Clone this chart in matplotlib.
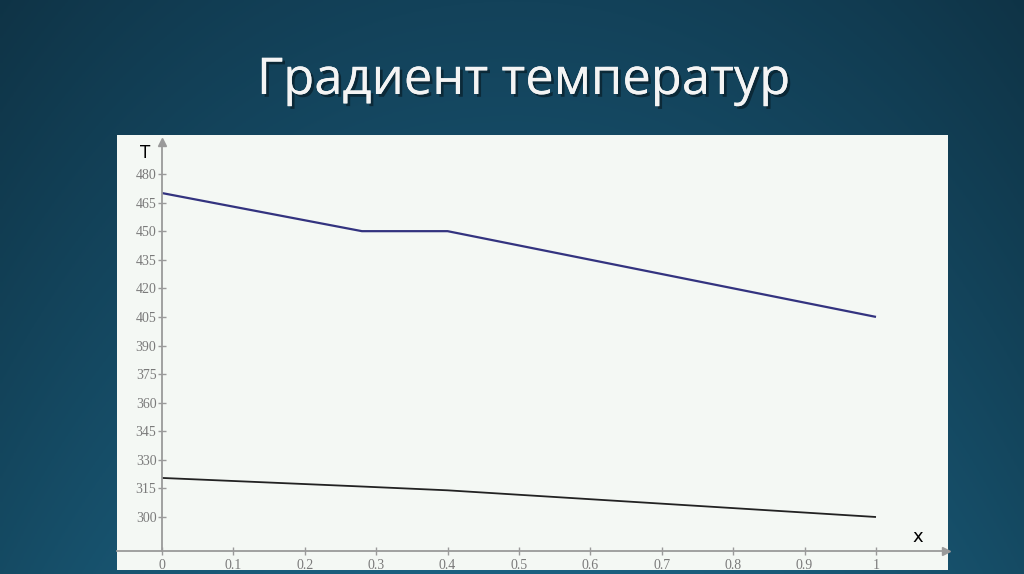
import numpy as np
import matplotlib
matplotlib.use('Agg')
import matplotlib.pyplot as plt
from matplotlib import patheffects as pe

# ---- data ----
x_pos = [0.0, 0.28, 0.4, 1.0]
t_hot = [470, 450, 450, 405]
t_cold = [320.5, 316, 314, 300]
y_ticks = [300, 315, 330, 345, 360, 375, 390, 405, 420, 435, 450, 465, 480]
x_ticks = [0, 0.1, 0.2, 0.3, 0.4, 0.5, 0.6, 0.7, 0.8, 0.9, 1.0]
x_tick_labels = ['0', '0.1', '0.2', '0.3', '0.4', '0.5', '0.6', '0.7', '0.8', '0.9', '1']
title = 'Градиент температур'

W, H = 1024, 574
fig = plt.figure(figsize=(W / 100, H / 100), dpi=100)

# ---- background gradient ----
bg = fig.add_axes([0, 0, 1, 1])
bg.axis('off')
yy, xx = np.mgrid[0:1:200j, 0:1:300j]
top = np.array([0x13, 0x42, 0x5a]) / 255
bot = np.array([0x1b, 0x60, 0x80]) / 255
img = top[None, None, :] + (bot - top)[None, None, :] * yy[..., None]
edge = 1 - 0.22 * (np.abs(xx - 0.5) * 2) ** 2
img = np.clip(img * edge[..., None], 0, 1)
bg.imshow(img, extent=[0, 1, 0, 1], aspect='auto', origin='upper')
bg.set_xlim(0, 1)
bg.set_ylim(0, 1)

# ---- title ----
fig.text(524 / W, 1 - 94 / H, title, ha='center', va='baseline', color='#f4f4f4',
         fontsize=36.5, family='Open Sans',
         path_effects=[pe.withSimplePatchShadow(offset=(2, -2), shadow_rgbFace='black', alpha=0.4),
                       pe.Normal()])

# ---- chart panel ----
px0, px1, py0, py1 = 117, 948, 135, 570
ax = fig.add_axes([px0 / W, 1 - py1 / H, (px1 - px0) / W, (py1 - py0) / H])
ax.set_facecolor('#f4f8f4')

x0px, x1px = 162, 876
y300, y480 = 517, 174
sx = (x1px - x0px) / 1.0
sy = (y300 - y480) / 180.0
ax.set_xlim((px0 - x0px) / sx, (px1 - x0px) / sx)
ax.set_ylim(300 - (py1 - y300) / sy, 480 + (y480 - py0) / sy)

xaxis_y = 300 - (551 - y300) / sy
axis_col = '#9a9a9a'

for s in ['top', 'right']:
    ax.spines[s].set_visible(False)
ax.spines['left'].set_position(('data', 0))
ax.spines['bottom'].set_position(('data', xaxis_y))
ax.spines['left'].set_bounds(xaxis_y, 480 + (y480 - 143) / sy)
ax.spines['bottom'].set_bounds((px0 - x0px) / sx, (944 - x0px) / sx)
for s in ['left', 'bottom']:
    ax.spines[s].set_color(axis_col)
    ax.spines[s].set_linewidth(1.3)

ax.plot([(946 - x0px) / sx], [xaxis_y], marker='>', color=axis_col, ms=6, clip_on=False)
ax.plot([0], [480 + (y480 - 142) / sy], marker='^', color=axis_col, ms=6, clip_on=False)

ax.set_yticks(y_ticks)
ax.set_yticklabels([str(v) for v in y_ticks])
ax.set_xticks(x_ticks)
ax.set_xticklabels(x_tick_labels)
ax.tick_params(axis='both', direction='inout', length=6, width=1, color=axis_col,
               labelcolor='#7a7a7a', labelsize=10)
ax.tick_params(axis='y', pad=1)
ax.tick_params(axis='x', pad=3)
for lab in ax.get_xticklabels() + ax.get_yticklabels():
    lab.set_family('Liberation Serif')

# ---- lines ----
ax.plot(x_pos, t_hot, color='#33337f', lw=1.6, solid_capstyle='butt')
ax.plot(x_pos, t_cold, color='#222222', lw=1.3, solid_capstyle='butt')

# ---- axis names ----
ax.text((145 - x0px) / sx, 480 + (y480 - 153) / sy, 'T', ha='center', va='center',
        fontsize=12, color='black', family='DejaVu Sans')
ax.text((918 - x0px) / sx, 300 - (537 - y300) / sy, 'x', ha='center', va='center',
        fontsize=13, color='black', family='DejaVu Sans')

fig.savefig('out.png', dpi=100)
